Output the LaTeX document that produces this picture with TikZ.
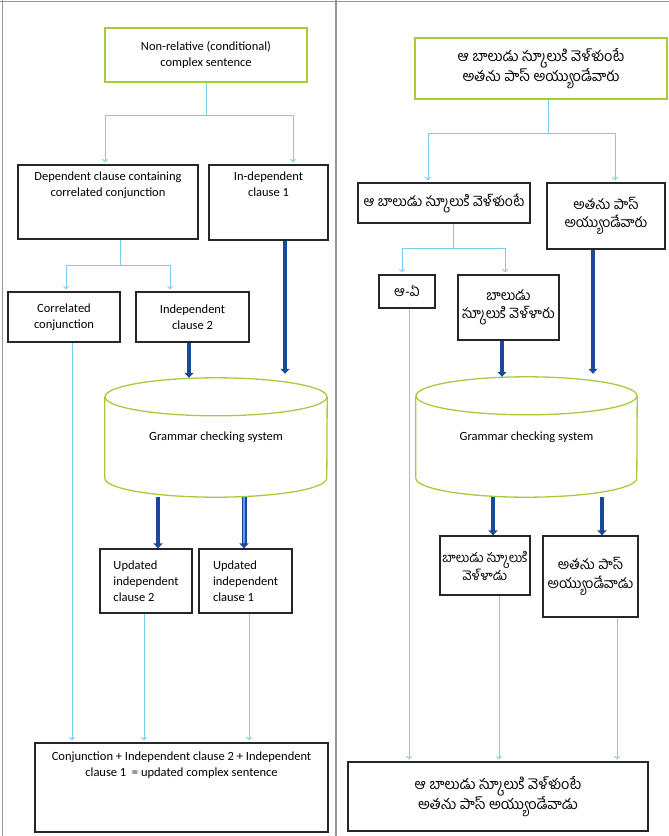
\documentclass[tikz,border=0pt]{standalone}
\usepackage{fontspec}
\setmainfont{Carlito}
\newfontfamily\te[Script=Telugu]{Hind Guntur}
\usetikzlibrary{arrows.meta}

\definecolor{leafgreen}{RGB}{166,204,60}
\definecolor{skyline}{RGB}{120,205,232}
\definecolor{flowblue}{RGB}{28,72,152}
\definecolor{paleblue}{RGB}{90,160,225}
\definecolor{framegray}{RGB}{150,150,150}

\tikzset{
  en/.style={font=\fontsize{12.5}{16}\selectfont},
  tel/.style={font=\te\fontsize{14}{18.5}\selectfont},
  telbig/.style={font=\te\fontsize{14.5}{18.5}\selectfont},
  telsmall/.style={font=\te\fontsize{13}{18}\selectfont},
  clausebox/.style={draw=black!85, line width=1.3pt, inner sep=0pt, align=center},
  sentbox/.style={draw=leafgreen, line width=1.5pt, inner sep=0pt, align=center},
  drum/.style={inner sep=0pt, align=center},
  drumline/.style={draw=leafgreen, line width=1.3pt},
  feed/.style={draw=skyline, line width=0.9pt},
  feedarrow/.style={feed, -{Straight Barb[length=2.5pt,width=5pt]}, shorten >=2pt},
  flow/.style={draw=flowblue, line width=4.5pt, -{Triangle[length=5pt,width=9pt]}},
  flowpale/.style={flow, double=paleblue, double distance=1.8pt, line width=1.6pt},
}

\begin{document}
\begin{tikzpicture}[x=1pt, y=-1pt]
\useasboundingbox (0,0) rectangle (669,836);

% panel frame
\draw[framegray, line width=0.8pt] (0,1) -- (669,1);
\draw[framegray, line width=1pt] (2,0) -- (2,836);
\draw[framegray, line width=1.2pt] (336,0) -- (336,836);

% ---------------- English panel ----------------
\node[sentbox, en, minimum width=202pt, minimum height=54pt] (A) at (206,55)
  {Non-relative (conditional)\\complex sentence};
\node[clausebox, en, minimum width=180pt, minimum height=74pt] (B) at (108,202)
  {\parbox[c][60pt][t]{170pt}{\centering Dependent clause containing\\correlated conjunction}};
\node[clausebox, en, minimum width=119pt, minimum height=75pt] (C) at (268.5,202.5)
  {\parbox[c][61pt][t]{110pt}{\centering In-dependent\\clause 1}};
\node[clausebox, en, minimum width=112pt, minimum height=50pt] (D) at (64,317)
  {Correlated\\conjunction};
\node[clausebox, en, minimum width=113pt, minimum height=50pt] (E) at (192.5,317)
  {Independent\\clause 2};
\node[drum, en, minimum width=222pt, minimum height=119pt] (cylL) at (216,437.5)
  {\raisebox{-5pt}{Grammar checking system}};
\node[clausebox, en, minimum width=92pt, minimum height=64pt, align=left] (G) at (146,581)
  {Updated\\independent\\clause 2};
\node[clausebox, en, minimum width=93pt, minimum height=64pt, align=left] (H) at (245.5,581)
  {Updated\\independent\\clause 1};
\node[clausebox, en, minimum width=293pt, minimum height=89pt] (I) at (181.5,787.5)
  {\parbox[c][71pt][t]{285pt}{\centering Conjunction + Independent clause 2 + Independent\\clause 1 \ = updated complex sentence}};

% drum outline
\draw[drumline] ([yshift=-19pt]cylL.north) ellipse [x radius=111pt, y radius=19pt];
\draw[drumline] ([yshift=-19pt]cylL.north west) -- ([yshift=19pt]cylL.south west)
  arc[start angle=180, end angle=360, x radius=111pt, y radius=19pt]
  -- ([yshift=-19pt]cylL.north east);

% split of the sentence
\coordinate (jA)  at (206,115);
\coordinate (jAl) at (105,115);
\coordinate (jAr) at (293,115);
\draw[feed] (A.south) -- (jA);
\draw[feed] (jAl) -- (jAr);
\draw[feedarrow] (jAl) -- (jAl |- B.north);
\draw[feedarrow] (jAr) -- (jAr |- C.north);

% split of the dependent clause
\coordinate (jB)  at (120,265);
\coordinate (jBl) at (66,265);
\coordinate (jBr) at (170,265);
\draw[feed] (jB |- B.south) -- (jB);
\draw[feed] (jBl) -- (jBr);
\draw[feedarrow] (jBl) -- (jBl |- D.north);
\draw[feedarrow] (jBr) -- (jBr |- E.north);

% into and out of the checker
\draw[flow] ([xshift=-3.5pt]E.south) -- ([xshift=-3.5pt]E.south |- cylL.north);
\draw[flow] ([xshift=16.5pt]C.south) -- ([xshift=16.5pt,yshift=4pt]C.south |- cylL.north);
\draw[flow] ([xshift=12pt]G.north |- cylL.south) -- ([xshift=12pt]G.north);
\draw[flowpale] ([xshift=-1.5pt]H.north |- cylL.south) -- ([xshift=-1.5pt]H.north);

% assembling the result
\draw[feedarrow] ([xshift=8pt]D.south) -- ([xshift=8pt]D.south |- I.north);
\draw[feedarrow] ([xshift=-2pt]G.south) -- ([xshift=-2pt]G.south |- I.north);
\draw[feedarrow] ([xshift=3.5pt]H.south) -- ([xshift=3.5pt]H.south |- I.north);

% ---------------- Telugu panel ----------------
\node[sentbox, telbig, minimum width=252pt, minimum height=61pt] (J) at (541,68.5)
  {ఆ బాలుడు స్కూలుకి వెళ్ళుంటే\\అతను పాస్ అయ్యుండేవారు};
\node[clausebox, tel, minimum width=172pt, minimum height=40pt] (K) at (444,203)
  {ఆ బాలుడు స్కూలుకి వెళ్ళుంటే};
\node[clausebox, tel, minimum width=118pt, minimum height=66pt] (L) at (606,216)
  {అతను పాస్\\అయ్యుండేవారు};
\node[clausebox, tel, minimum width=56pt, minimum height=33pt] (M) at (407,291.5)
  {ఆ-ఏ};
\node[clausebox, tel, minimum width=101pt, minimum height=65pt] (N) at (508.5,307.5)
  {\raisebox{4pt}{\parbox{101pt}{\centering బాలుడు\\స్కూలుకి వెళ్ళారు}}};
\node[drum, en, minimum width=221pt, minimum height=120pt] (cylR) at (526.5,437)
  {\raisebox{-5pt}{Grammar checking system}};
\node[clausebox, telsmall, minimum width=90pt, minimum height=59pt] (S) at (485,565.5)
  {బాలుడు స్కూలుకి\\వెళ్ళాడు};
\node[clausebox, tel, minimum width=95pt, minimum height=81pt] (T) at (590.5,576.5)
  {అతను పాస్\\అయ్యుండేవాడు};
\node[clausebox, telbig, minimum width=300pt, minimum height=69pt] (U) at (498,796.5)
  {ఆ బాలుడు స్కూలుకి వెళ్ళుంటే\\అతను పాస్ అయ్యుండేవాడు};

% drum outline
\draw[drumline] ([yshift=-19pt]cylR.north) ellipse [x radius=110.5pt, y radius=19pt];
\draw[drumline] ([yshift=-19pt]cylR.north west) -- ([yshift=19pt]cylR.south west)
  arc[start angle=180, end angle=360, x radius=110.5pt, y radius=19pt]
  -- ([yshift=-19pt]cylR.north east);

% split of the sentence
\coordinate (jJ)  at (548,133);
\coordinate (jJl) at (428,133);
\coordinate (jJr) at (615,133);
\draw[feed] (jJ |- J.south) -- (jJ);
\draw[feed] (jJl) -- (jJr);
\draw[feedarrow] (jJl) -- (jJl |- K.north);
\draw[feedarrow] (jJr) -- (jJr |- L.north);

% split of the dependent clause
\coordinate (jK)  at (453,248);
\coordinate (jKl) at (402,248);
\coordinate (jKr) at (505,248);
\draw[feed] (jK |- K.south) -- (jK);
\draw[feed] (jKl) -- (jKr);
\draw[feedarrow] (jKl) -- (jKl |- M.north);
\draw[feedarrow] (jKr) -- (jKr |- N.north);

% into and out of the checker
\draw[flow] ([xshift=-6.5pt]N.south) -- ([xshift=-6.5pt]N.south |- cylR.north);
\draw[flow] ([xshift=-13pt]L.south) -- ([xshift=-13pt,yshift=3pt]L.south |- cylR.north);
\draw[flow] ([xshift=8pt]S.north |- cylR.south) -- ([xshift=8pt]S.north);
\draw[flow] ([xshift=11.5pt]T.north |- cylR.south) -- ([xshift=11.5pt]T.north);

% assembling the result
\draw[feedarrow] ([xshift=2pt]M.south) -- ([xshift=2pt]M.south |- U.north);
\draw[feedarrow] ([xshift=14pt]S.south) -- ([xshift=14pt]S.south |- U.north);
\draw[feedarrow] ([xshift=26.5pt]T.south) -- ([xshift=26.5pt]T.south |- U.north);
\end{tikzpicture}
\end{document}
